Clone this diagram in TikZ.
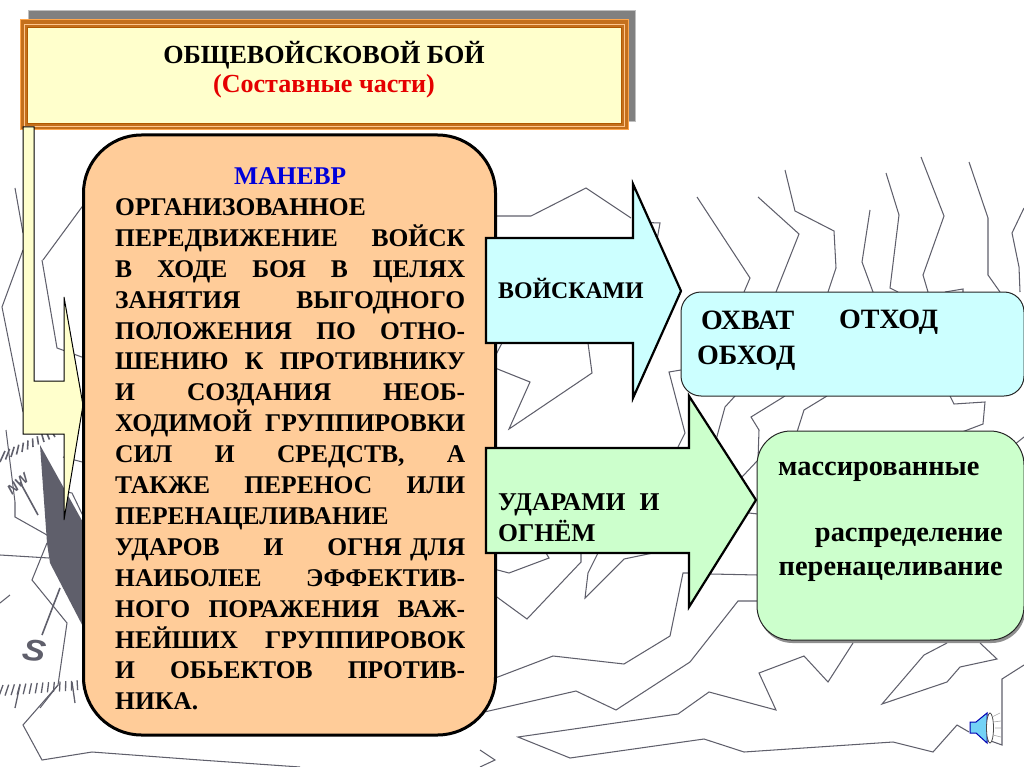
\documentclass[tikz,border=0pt]{standalone}
\usepackage{fontspec}
\setmainfont{Liberation Serif}
\setsansfont{Liberation Sans}
\usetikzlibrary{shadows,backgrounds}

\definecolor{framegray}{HTML}{808080}
\definecolor{frameorange}{HTML}{C4701C}
\definecolor{paleyellow}{HTML}{FFFFCC}
\definecolor{peach}{HTML}{FFCC99}
\definecolor{palecyan}{HTML}{CCFFFF}
\definecolor{palegreen}{HTML}{CCFFCC}
\definecolor{mapgray}{HTML}{5F5F6B}

\begin{document}
\begin{tikzpicture}[
  x=1pt, y=-1pt,
  terrain/.style={draw=mapgray, line width=1.05pt, line join=miter},
  compass/.style={draw=mapgray, line width=1.6pt},
  bodytext/.style={font=\fontsize{25.5}{30.9}\selectfont\bfseries, align=left, inner sep=0pt},
  arrowtext/.style={font=\fontsize{23.8}{31}\selectfont\bfseries, align=left, inner sep=0pt, anchor=west},
  roundbox/.style={draw=black!85, line width=1pt, minimum width=343pt, minimum height=104pt, rounded corners=20pt},
  bigarrow/.style={draw=black, line width=2.2pt, line join=miter}
]
  \useasboundingbox (0,0) rectangle (1024,767);

  % Map lines, top right
  \draw[terrain] (697,197) -- (750,278) -- (744,292);
  \draw[terrain] (758,197) -- (799,234) -- (776,292);
  \draw[terrain] (785,170) -- (795,211) -- (834,231) -- (836,268) -- (828,292);
  \draw[terrain] (870,210) -- (862,262) -- (873,292);
  \draw[terrain] (886,173) -- (899,215) -- (890,288) -- (898,292);
  \draw[terrain] (921,157) -- (944,216) -- (923,275) -- (928,292);
  \draw[terrain] (945,292) -- (963,289) -- (963,292);
  \draw[terrain] (969,162) -- (988,218) -- (988,275) -- (1000,292);
  \draw[terrain] (1024,208) -- (1012,233) -- (1019,267) -- (1020,292);
  \draw[terrain] (490,216) -- (531,216) -- (586,188) -- (631,218);
  \draw[terrain] (633,222) -- (660,223) -- (657,240);

  % Map lines, middle
  \draw[terrain] (502,343) -- (490,366) -- (530,382) -- (509,429) -- (592,373) -- (588,343);
  \draw[terrain] (681,370) -- (669,372) -- (685,433) -- (678,447);
  \draw[terrain] (735,396) -- (725,407) -- (716,440);
  \draw[terrain] (785,396) -- (751,417) -- (759,430) -- (758,460) -- (742,477);
  \draw[terrain] (827,396) -- (804,410) -- (797,432);
  \draw[terrain] (950,396) -- (954,404) -- (985,402) -- (983,424) -- (962,432);
  \draw[terrain] (1024,437) -- (1014,445);
  \draw[terrain] (749,513) -- (758,514);

  % Map lines, bottom
  \draw[terrain] (711,574) -- (758,575);
  \draw[terrain] (690,573) -- (683,573) -- (670,636) -- (624,664) -- (553,656) -- (490,680);
  \draw[terrain] (758,601) -- (738,601) -- (690,662) -- (616,710) -- (576,691) -- (480,713);
  \draw[terrain] (490,568) -- (509,573) -- (549,558) -- (546,553);
  \draw[terrain] (581,553) -- (581,562) -- (527,619) -- (490,592);
  \draw[terrain] (598,553) -- (588,573) -- (585,598) -- (624,559) -- (653,553);
  \draw[terrain] (678,714) -- (709,692) -- (776,710) -- (759,673) -- (804,656) -- (828,682) -- (853,643);
  \draw[terrain] (678,714) -- (518,737) -- (570,758) -- (704,739) -- (744,752) -- (893,742) -- (933,752) -- (957,725) -- (969,732);
  \draw[terrain] (947,643) -- (924,655) -- (882,704) -- (947,682) -- (960,667) -- (997,659) -- (980,643);
  \draw[terrain] (1024,665) -- (1002,679) -- (1002,745) -- (988,740);
  \draw[terrain] (480,750) -- (495,760) -- (480,767);
  \draw[terrain] (92,752) -- (42,760) -- (23,725) -- (58,685) -- (67,623) -- (32,580) -- (47,543);
  \draw[terrain] (92,752) -- (200,760) -- (300,767);

  % Map lines, left
  \draw[terrain] (15,188) -- (23,233);
  \draw[terrain] (90,196) -- (43,260);
  \draw[terrain] (23,250) -- (2,307) -- (23,412);
  \draw[terrain] (42,260) -- (57,348) -- (90,360);
  \draw[terrain] (6,430) -- (15,502) -- (15,517) -- (47,535);
  \draw[terrain] (43,488) -- (72,493) -- (85,520);
  \draw[terrain] (63,457) -- (90,464);
  \draw[terrain] (0,555) -- (49,558);
  \draw[terrain] (0,603) -- (10,595);
  \draw[terrain] (58,685) -- (40,708);

  % Compass
  \fill[mapgray] (40,445) -- (90,535) -- (90,640) -- (50,563) -- (47,543) -- cycle;
  \draw[compass] (42,635) -- (60,588);
  \draw[compass] (38,515) -- (20,482);
  \foreach \i in {0,...,10} {
    \draw[compass, line width=1.6pt] ({\i*5.5},{462-\i*2.5}) -- ({\i*5.5+5-\i*0.9},{451-\i*2.1});
  }
  \foreach \i in {0,...,14} {
    \draw[compass, line width=1.3pt] ({\i*5.7+3},{685-\i*0.35}) -- ({\i*5.7-1+\i*0.35},{696-\i*0.45});
  }
  \draw[compass, line width=1.3pt] (20,685) -- (15,708);
  \draw[compass, line width=1.3pt] (72,682) -- (75,703);
  \node[font=\fontsize{14}{14}\selectfont\sffamily\bfseries\itshape, text=mapgray, rotate=40, inner sep=0pt] (northwest) at (18,484) {NW};
  \node[font=\fontsize{30}{30}\selectfont\sffamily\bfseries\itshape, text=mapgray, xscale=1.15, rotate=-8, inner sep=0pt] (south) at (35,651) {S};

  % Title
  \node[draw=black!25, fill=framegray, line width=1pt, minimum width=607pt, minimum height=111pt] (titleback) at (332,66) {};
  \node[draw=orange!70!white, fill=frameorange, line width=1pt, minimum width=608pt, minimum height=110pt] (titleframe) at (324,75) {};
  \node[draw=orange!45!white, line width=0.8pt, minimum width=600pt, minimum height=102pt] (titleline) at (324,75) {};
  \node[draw=orange!70!black, fill=paleyellow, line width=0.8pt, minimum width=594pt, minimum height=96pt] (title) at (324,75) {};
  \node[font=\fontsize{26.1}{30}\selectfont\bfseries, align=center, inner sep=0pt, anchor=center] (titletext) at (324,70) {ОБЩЕВОЙСКОВОЙ БОЙ\\[-1pt]\textcolor{red!90!black}{(Составные части)}};

  % Yellow pointer
  \draw[draw=black, fill=paleyellow, line width=1pt] (23,127) -- (34,127) -- (34,381) -- (64,381) -- (64,297) -- (83,405) -- (64,520) -- (64,434) -- (23,434) -- cycle;

  % Main box
  \node[draw=black, fill=peach, line width=3pt, rounded corners=58pt, minimum width=412pt, minimum height=600pt] (maneuver) at (289.5,435) {};
  \node[bodytext, text width=350pt, anchor=north west] (maneuvertext) at (115,167.5) {%
    \makebox[350pt]{\textcolor{blue!85!black}{МАНЕВР}}\\
    ОРГАНИЗОВАННОЕ\\
    ПЕРЕДВИЖЕНИЕ\hfill ВОЙСК\\
    В\hfill ХОДЕ\hfill БОЯ\hfill В\hfill ЦЕЛЯХ\\
    ЗАНЯТИЯ\hfill ВЫГОДНОГО\\
    ПОЛОЖЕНИЯ\hfill ПО\hfill ОТНО-\\
    ШЕНИЮ\hfill К\hfill ПРОТИВНИКУ\\
    И\hfill СОЗДАНИЯ\hfill НЕОБ-\\
    ХОДИМОЙ\hfill ГРУППИРОВКИ\\
    СИЛ\hfill И\hfill СРЕДСТВ,\hfill А\\
    ТАКЖЕ\hfill ПЕРЕНОС\hfill ИЛИ\\
    ПЕРЕНАЦЕЛИВАНИЕ\\
    УДАРОВ\hfill И\hfill ОГНЯ ДЛЯ\\
    НАИБОЛЕЕ\hfill ЭФФЕКТИВ-\\
    НОГО\hfill ПОРАЖЕНИЯ\hfill ВАЖ-\\
    НЕЙШИХ\hfill ГРУППИРОВОК\\
    И\hfill ОБЬЕКТОВ\hfill ПРОТИВ-\\
    НИКА.};

  % Arrows
  \draw[bigarrow, fill=palecyan] (486,238) -- (633,238) -- (633,184) -- (681,291) -- (633,398) -- (633,343) -- (486,343) -- cycle;
  \node[arrowtext] (troops) at (498,288) {ВОЙСКАМИ};
  \draw[bigarrow, fill=palegreen] (486,448) -- (689,448) -- (689,396) -- (756,500) -- (689,607) -- (689,553) -- (486,553) -- cycle;
  \node[arrowtext, font=\fontsize{25.6}{31}\selectfont\bfseries] (fire) at (498,517.5) {УДАРАМИ\hspace{0.55em}И\\ОГНЁМ};

  % Right boxes
  \node[roundbox, fill=palecyan] (envelop) at (852.5,344) {};
  \node[arrowtext, font=\fontsize{28}{35}\selectfont\bfseries] (envelopa) at (697,341) {\hspace{4pt}ОХВАТ\\ОБХОД};
  \node[arrowtext, font=\fontsize{28}{35}\selectfont\bfseries] (envelopb) at (839,322) {ОТХОД};
  \node[roundbox, fill=palegreen, minimum width=267pt, minimum height=209pt, rounded corners=34pt, drop shadow={shadow xshift=1.5pt, shadow yshift=-3pt, fill=black!55, opacity=0.8}] (massed) at (890.5,535.5) {};
  \node[arrowtext, font=\fontsize{28.4}{34}\selectfont\bfseries] (massedtext) at (778,472) {массированные};
  \node[arrowtext, font=\fontsize{28.4}{34}\selectfont\bfseries, anchor=east, align=right] (spreadtext) at (1003,555) {распределение\\перенацеливание};

  % Speaker
  \draw[blue!70!black, fill=cyan!55!white, line width=1pt] (970,722) -- (976,722) -- (987,713) -- (987,743) -- (976,733) -- (970,733) -- cycle;
  \draw[black!70, fill=white, line width=0.8pt] (990,728) ellipse (3.5 and 15);
  \draw[black!35, line width=0.6pt] (992,717) -- (1000,713) (993,722) -- (1001,721) (995,728) -- (1001,728) (993,735) -- (1001,737);
\end{tikzpicture}
\end{document}
